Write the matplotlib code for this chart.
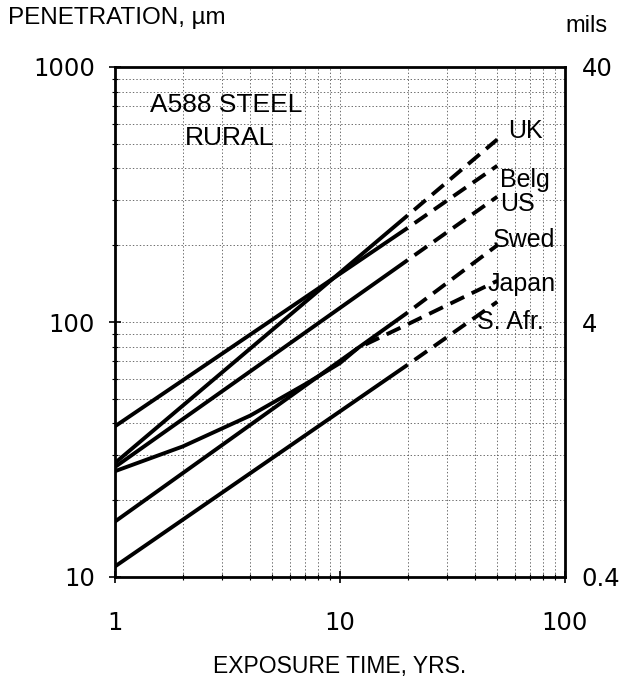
import matplotlib
matplotlib.use("Agg")
import matplotlib.pyplot as plt
from matplotlib.ticker import LogLocator, NullFormatter, FixedLocator, FixedFormatter

uk_anos = [1, 20]
uk_pen = [28, 262]
uk_anos_proj = [20, 50]
uk_pen_proj = [262, 520]

belg_anos = [1, 20]
belg_pen = [39, 234]
belg_anos_proj = [20, 50]
belg_pen_proj = [234, 410]

us_anos = [1, 20]
us_pen = [27, 175]
us_anos_proj = [20, 50]
us_pen_proj = [175, 310]

swed_anos = [1, 20]
swed_pen = [16.5, 109]
swed_anos_proj = [20, 50]
swed_pen_proj = [109, 200]

japan_anos = [1, 2, 4, 7, 10, 12]
japan_pen = [26, 32.5, 43, 57, 69, 79]
japan_anos_proj = [12, 20, 50]
japan_pen_proj = [79, 98, 145]

safr_anos = [1, 20]
safr_pen = [11, 68]
safr_anos_proj = [20, 50]
safr_pen_proj = [68, 120]

rotulos = ["UK", "Belg", "US", "Swed", "Japan", "S. Afr."]
rotulos_xy = [(508, 131), (500, 180), (500, 204), (493, 240), (488, 284), (477, 322)]

x_ticks = [1, 10, 100]
x_labels = ["1", "10", "100"]
y_ticks = [10, 100, 1000]
y_labels = ["10", "100", "1000"]
mils_labels = ["0.4", "4", "40"]

plt.rcParams["font.family"] = ["Liberation Sans", "DejaVu Sans"]
plt.rcParams["lines.scale_dashes"] = False

fig = plt.figure(figsize=(6.19, 6.89), dpi=100)
ax = fig.add_axes([115 / 619, 1 - 577 / 689, 450 / 619, 510 / 689])

ax.set_xscale("log")
ax.set_yscale("log")
ax.set_xlim(1, 100)
ax.set_ylim(10, 1000)

# grade pontilhada em todas as décadas
ax.grid(True, which="both", linestyle=(0, (1, 1.5)), color="#555555", linewidth=0.6)
ax.set_axisbelow(True)

solidos = [
    (uk_anos, uk_pen), (belg_anos, belg_pen), (us_anos, us_pen),
    (swed_anos, swed_pen), (japan_anos, japan_pen), (safr_anos, safr_pen),
]
projecoes = [
    (uk_anos_proj, uk_pen_proj), (belg_anos_proj, belg_pen_proj),
    (us_anos_proj, us_pen_proj), (swed_anos_proj, swed_pen_proj),
    (japan_anos_proj, japan_pen_proj), (safr_anos_proj, safr_pen_proj),
]

for anos, pen in solidos:
    ax.plot(anos, pen, color="black", linewidth=2.8, solid_capstyle="butt")

# começa com um espaço, como no original
for anos, pen in projecoes:
    ax.plot(anos, pen, color="black", linewidth=2.8,
            linestyle=(11, (11, 6)), dash_capstyle="butt")

ax.xaxis.set_major_locator(FixedLocator(x_ticks))
ax.xaxis.set_major_formatter(FixedFormatter(x_labels))
ax.yaxis.set_major_locator(FixedLocator(y_ticks))
ax.yaxis.set_major_formatter(FixedFormatter(y_labels))
ax.xaxis.set_minor_locator(LogLocator(base=10, subs=range(2, 10)))
ax.yaxis.set_minor_locator(LogLocator(base=10, subs=range(2, 10)))
ax.xaxis.set_minor_formatter(NullFormatter())
ax.yaxis.set_minor_formatter(NullFormatter())

ax.tick_params(which="major", direction="inout", length=9, width=1.2,
               labelsize=17.5, labelfontfamily="DejaVu Sans")
ax.tick_params(which="minor", direction="inout", length=5, width=0.8)
ax.tick_params(axis="x", which="major", pad=20)
ax.tick_params(axis="y", which="major", pad=10)

for sp in ax.spines.values():
    sp.set_linewidth(2)

# eixo da direita em mils
ax2 = ax.twinx()
ax2.set_yscale("log")
ax2.set_ylim(10, 1000)
ax2.yaxis.set_major_locator(FixedLocator(y_ticks))
ax2.yaxis.set_major_formatter(FixedFormatter(mils_labels))
ax2.yaxis.set_minor_locator(FixedLocator([]))
ax2.tick_params(which="major", length=0, pad=12, labelsize=17.5,
                labelfontfamily="DejaVu Sans")
for sp in ax2.spines.values():
    sp.set_visible(False)

for texto, (px, py) in zip(rotulos, rotulos_xy):
    fig.text(px / 619, 1 - py / 689, texto, fontsize=18, ha="left", va="center")

fig.text(150 / 619, 1 - 105 / 689, "A588 STEEL", fontsize=19, ha="left", va="center")
fig.text(185 / 619, 1 - 138 / 689, "RURAL", fontsize=19, ha="left", va="center")

fig.text(8 / 619, 1 - 18 / 689, "PENETRATION, µm", fontsize=17.5, ha="left", va="center")
fig.text(565 / 619, 1 - 26 / 689, "mils", fontsize=17, ha="left", va="center")
fig.text(340 / 619, 1 - 667 / 689, "EXPOSURE TIME, YRS.", fontsize=16.5,
         ha="center", va="center")

fig.savefig("out.png", dpi=100, facecolor="white")
